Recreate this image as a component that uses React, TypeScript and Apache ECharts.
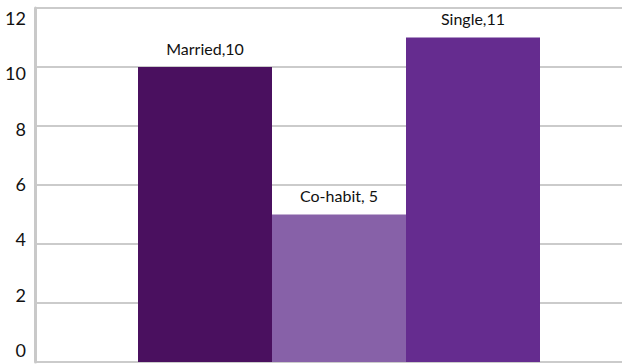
import React, { useEffect, useRef } from "react";
import * as echarts from "echarts";

// Household status counts
const statuses = ["Married", "Co-habit", "Single"];
const counts = [10, 5, 11];
const separators = [",", ", ", ","];
const barColors = ["#4a105f", "#8761a8", "#652c8f"];
const yTicks = [0, 2, 4, 6, 8, 10, 12];

const FONT = "Lato, 'Open Sans', sans-serif";

export default function App() {
  const ref = useRef<HTMLDivElement>(null);

  useEffect(() => {
    if (!ref.current) return;
    const chart = echarts.init(ref.current, null, { renderer: "svg" });
    const yMax = yTicks[yTicks.length - 1];
    const step = yTicks[1] - yTicks[0];

    chart.setOption({
      animation: false,
      backgroundColor: "#ffffff",
      grid: [
        // frame: axis line and gridlines
        { left: 35, top: 8, bottom: 2, right: 0 },
        // value labels column
        { left: 35, top: 18, height: 332, right: 0 },
        // bars, centred a little right of the frame's middle
        { left: 56, top: 8, bottom: 2, right: 0 },
      ],
      xAxis: [
        { type: "category", gridIndex: 0, data: [""], show: false },
        { type: "category", gridIndex: 1, data: [""], show: false },
        { type: "category", gridIndex: 2, data: [""], show: false },
      ],
      yAxis: [
        {
          type: "value",
          gridIndex: 0,
          min: 0,
          max: yMax,
          interval: step,
          axisLine: { show: true, lineStyle: { color: "#c9c9c9", width: 3 } },
          axisTick: { show: false },
          axisLabel: { show: false },
          splitLine: { show: true, lineStyle: { color: "#cbcbcb", width: 2 } },
        },
        {
          type: "value",
          gridIndex: 1,
          min: 0,
          max: yMax,
          interval: step,
          axisLine: { show: false },
          axisTick: { show: false },
          splitLine: { show: false },
          axisLabel: {
            show: true,
            margin: 9,
            color: "#111111",
            fontFamily: FONT,
            fontSize: 18,
          },
        },
        {
          type: "value",
          gridIndex: 2,
          min: 0,
          max: yMax,
          interval: step,
          show: false,
        },
      ],
      series: statuses.map((name, i) => ({
        type: "bar",
        name,
        xAxisIndex: 2,
        yAxisIndex: 2,
        data: [counts[i]],
        barWidth: 134,
        barGap: "0%",
        itemStyle: { color: barColors[i] },
        label: {
          show: true,
          position: "top",
          distance: 11,
          color: "#111111",
          fontFamily: FONT,
          fontSize: 16,
          formatter: () => `${name}${separators[i]}${counts[i]}`,
        },
      })),
    });

    return () => chart.dispose();
  }, []);

  return (
    <div
      ref={ref}
      style={{ position: "fixed", left: 0, top: 0, width: 622, height: 364 }}
    />
  );
}
